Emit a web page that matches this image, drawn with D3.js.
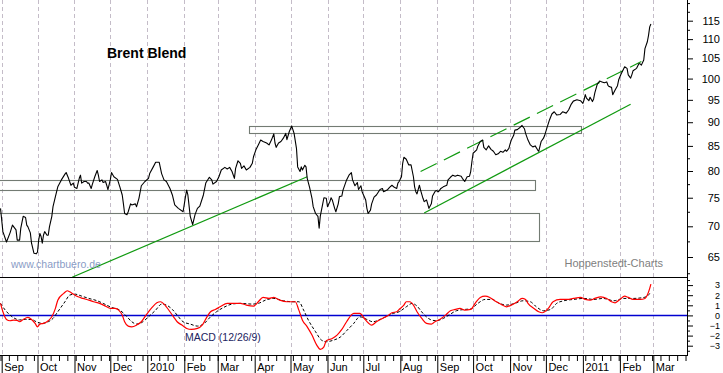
<!DOCTYPE html>
<html><head><meta charset="utf-8">
<script src="https://cdn.jsdelivr.net/npm/d3@7"></script>
<style>
body{margin:0;background:#fff}
svg{display:block;font-family:"Liberation Sans",Arial,sans-serif}
</style>
</head><body>
<svg id="chart" width="723" height="373"></svg>
<script>
// ---------------- data ----------------
const priceDates = ["2009-08-31","2009-09-02","2009-09-05","2009-09-08","2009-09-10","2009-09-13","2009-09-14","2009-09-16","2009-09-17","2009-09-19","2009-09-21","2009-09-22","2009-09-23","2009-09-25","2009-09-26","2009-09-28","2009-09-30","2009-10-01","2009-10-02","2009-10-03","2009-10-04","2009-10-05","2009-10-06","2009-10-07","2009-10-09","2009-10-10","2009-10-11","2009-10-13","2009-10-14","2009-10-16","2009-10-18","2009-10-21","2009-10-24","2009-10-25","2009-10-27","2009-10-29","2009-10-31","2009-11-01","2009-11-03","2009-11-05","2009-11-06","2009-11-07","2009-11-09","2009-11-11","2009-11-12","2009-11-13","2009-11-15","2009-11-16","2009-11-18","2009-11-20","2009-11-21","2009-11-22","2009-11-24","2009-11-25","2009-11-27","2009-11-28","2009-11-29","2009-12-01","2009-12-02","2009-12-04","2009-12-07","2009-12-09","2009-12-11","2009-12-12","2009-12-13","2009-12-15","2009-12-16","2009-12-18","2009-12-19","2009-12-22","2009-12-23","2009-12-25","2009-12-27","2009-12-30","2010-01-02","2010-01-03","2010-01-06","2010-01-08","2010-01-11","2010-01-13","2010-01-15","2010-01-17","2010-01-20","2010-01-22","2010-01-24","2010-01-27","2010-01-31","2010-02-02","2010-02-03","2010-02-04","2010-02-06","2010-02-08","2010-02-10","2010-02-12","2010-02-14","2010-02-17","2010-02-19","2010-02-22","2010-02-24","2010-02-25","2010-02-28","2010-03-02","2010-03-04","2010-03-07","2010-03-09","2010-03-11","2010-03-13","2010-03-15","2010-03-16","2010-03-18","2010-03-20","2010-03-21","2010-03-23","2010-03-25","2010-03-28","2010-03-30","2010-03-31","2010-04-02","2010-04-04","2010-04-06","2010-04-08","2010-04-11","2010-04-13","2010-04-15","2010-04-17","2010-04-18","2010-04-19","2010-04-21","2010-04-23","2010-04-25","2010-04-27","2010-04-28","2010-04-30","2010-05-02","2010-05-04","2010-05-06","2010-05-07","2010-05-09","2010-05-10","2010-05-11","2010-05-13","2010-05-14","2010-05-15","2010-05-17","2010-05-19","2010-05-20","2010-05-22","2010-05-24","2010-05-25","2010-05-26","2010-05-28","2010-05-29","2010-05-31","2010-06-01","2010-06-03","2010-06-04","2010-06-05","2010-06-07","2010-06-08","2010-06-10","2010-06-11","2010-06-13","2010-06-14","2010-06-17","2010-06-19","2010-06-21","2010-06-22","2010-06-24","2010-06-26","2010-06-27","2010-06-29","2010-06-30","2010-07-03","2010-07-04","2010-07-05","2010-07-07","2010-07-08","2010-07-10","2010-07-12","2010-07-15","2010-07-17","2010-07-18","2010-07-21","2010-07-23","2010-07-25","2010-07-27","2010-07-29","2010-07-30","2010-07-31","2010-08-02","2010-08-03","2010-08-04","2010-08-06","2010-08-08","2010-08-10","2010-08-12","2010-08-13","2010-08-14","2010-08-15","2010-08-17","2010-08-18","2010-08-20","2010-08-21","2010-08-23","2010-08-25","2010-08-27","2010-08-28","2010-08-30","2010-08-31","2010-09-02","2010-09-04","2010-09-06","2010-09-09","2010-09-10","2010-09-12","2010-09-14","2010-09-16","2010-09-18","2010-09-21","2010-09-22","2010-09-24","2010-09-26","2010-09-28","2010-09-29","2010-09-30","2010-10-01","2010-10-04","2010-10-05","2010-10-07","2010-10-09","2010-10-10","2010-10-12","2010-10-14","2010-10-16","2010-10-18","2010-10-20","2010-10-22","2010-10-24","2010-10-26","2010-10-28","2010-10-29","2010-10-31","2010-11-01","2010-11-02","2010-11-04","2010-11-05","2010-11-07","2010-11-09","2010-11-11","2010-11-13","2010-11-14","2010-11-16","2010-11-18","2010-11-20","2010-11-22","2010-11-24","2010-11-25","2010-11-27","2010-11-29","2010-11-30","2010-12-02","2010-12-04","2010-12-06","2010-12-08","2010-12-10","2010-12-13","2010-12-15","2010-12-18","2010-12-20","2010-12-22","2010-12-24","2010-12-27","2010-12-30","2011-01-01","2011-01-02","2011-01-03","2011-01-04","2011-01-06","2011-01-07","2011-01-09","2011-01-10","2011-01-11","2011-01-13","2011-01-15","2011-01-17","2011-01-19","2011-01-21","2011-01-22","2011-01-23","2011-01-25","2011-01-26","2011-01-28","2011-01-30","2011-01-31","2011-02-02","2011-02-04","2011-02-05","2011-02-07","2011-02-08","2011-02-10","2011-02-11","2011-02-12","2011-02-15","2011-02-17","2011-02-18","2011-02-19","2011-02-21","2011-02-22","2011-02-24","2011-02-25","2011-02-26","2011-02-27"];
const priceValues = [73.1,69.1,67.4,68.9,70.2,69.4,67.7,67.7,69.7,71.7,71.5,70.2,69.9,68.9,67.2,65.6,65.5,65.8,67.7,68.8,68.3,67.2,68.5,69.1,68.5,68.5,69.9,71.7,73.4,75.2,77.0,78.3,79.4,79.7,78.6,77.3,77.7,76.9,76.7,78.6,79.2,77.7,78.0,78.0,77.7,77.7,76.7,77.5,78.9,80.1,79.2,78.0,78.3,77.8,78.0,77.3,76.5,78.3,79.7,78.9,78.4,77.0,75.5,73.9,72.2,72.0,72.5,73.9,73.7,73.9,73.4,74.9,77.2,78.0,78.6,79.5,80.8,81.7,81.7,79.5,78.3,78.0,76.7,75.5,73.7,73.1,72.5,75.2,76.4,75.5,71.7,70.3,72.0,73.1,73.5,75.5,77.7,78.8,78.3,77.5,78.0,78.9,80.2,80.7,80.4,80.7,79.9,78.6,80.5,82.0,81.5,80.5,81.0,80.2,80.7,81.5,82.8,84.2,85.2,86.2,85.9,85.6,85.2,86.2,87.5,85.6,84.7,85.6,85.9,86.6,87.6,86.3,88.0,89.2,87.6,84.5,80.8,79.9,80.8,80.2,81.1,80.8,78.6,76.9,74.9,73.4,72.2,71.7,69.7,71.8,73.9,75.0,74.9,73.4,74.3,75.0,74.6,73.1,72.5,73.9,75.2,75.3,76.4,78.3,79.2,79.7,78.3,77.2,77.8,76.5,77.2,76.1,74.6,73.1,72.2,72.8,73.9,75.1,75.5,76.5,76.7,76.1,76.4,76.9,77.3,76.9,76.7,77.7,78.0,78.9,81.5,82.7,82.3,81.2,81.2,78.9,77.0,76.1,75.7,77.3,76.4,74.9,74.3,74.6,73.1,73.9,75.3,76.1,76.3,76.1,76.7,77.0,77.3,78.3,78.8,79.2,79.0,79.2,79.0,78.6,78.0,78.9,79.0,79.9,81.8,83.5,84.2,85.0,85.9,86.2,84.7,84.2,85.0,84.3,83.9,83.2,83.4,83.9,83.7,84.2,83.9,84.5,85.4,86.2,87.2,88.3,88.4,88.8,89.3,88.6,87.6,86.2,85.2,84.8,85.0,84.2,83.9,85.9,86.6,87.2,88.9,90.5,91.8,92.3,91.6,91.7,92.3,92.0,92.7,93.9,94.7,95.0,94.8,94.2,95.0,96.2,95.4,94.8,95.6,94.6,95.2,96.6,98.6,99.4,99.2,99.0,99.2,98.4,98.1,97.9,96.2,97.3,98.3,99.7,101.1,102.3,102.9,102.5,100.9,100.1,100.9,101.9,102.5,103.7,103.6,103.3,104.6,107.5,109.3,111.0,113.3,114.1];

const macdDates = ["2009-08-31","2009-09-02","2009-09-05","2009-09-08","2009-09-11","2009-09-14","2009-09-16","2009-09-19","2009-09-23","2009-09-26","2009-09-29","2009-10-01","2009-10-03","2009-10-06","2009-10-10","2009-10-13","2009-10-16","2009-10-18","2009-10-23","2009-10-26","2009-10-28","2009-10-31","2009-11-04","2009-11-08","2009-11-13","2009-11-17","2009-11-22","2009-11-27","2009-12-01","2009-12-05","2009-12-08","2009-12-11","2009-12-13","2009-12-16","2009-12-19","2009-12-23","2009-12-27","2009-12-31","2010-01-05","2010-01-09","2010-01-12","2010-01-15","2010-01-17","2010-01-20","2010-01-23","2010-01-26","2010-01-30","2010-02-03","2010-02-07","2010-02-12","2010-02-16","2010-02-20","2010-02-23","2010-02-27","2010-03-03","2010-03-09","2010-03-14","2010-03-20","2010-03-25","2010-03-31","2010-04-04","2010-04-08","2010-04-13","2010-04-17","2010-04-22","2010-04-28","2010-05-05","2010-05-08","2010-05-11","2010-05-15","2010-05-19","2010-05-23","2010-05-26","2010-05-29","2010-05-31","2010-06-05","2010-06-09","2010-06-13","2010-06-17","2010-06-23","2010-06-28","2010-07-03","2010-07-08","2010-07-12","2010-07-17","2010-07-21","2010-07-25","2010-07-29","2010-07-31","2010-08-04","2010-08-06","2010-08-09","2010-08-12","2010-08-15","2010-08-19","2010-08-23","2010-08-27","2010-08-30","2010-09-03","2010-09-08","2010-09-12","2010-09-16","2010-09-20","2010-09-24","2010-09-29","2010-10-03","2010-10-07","2010-10-11","2010-10-15","2010-10-19","2010-10-24","2010-10-29","2010-11-02","2010-11-07","2010-11-11","2010-11-14","2010-11-16","2010-11-21","2010-11-25","2010-11-28","2010-11-30","2010-12-03","2010-12-07","2010-12-13","2010-12-19","2010-12-24","2010-12-30","2011-01-03","2011-01-07","2011-01-11","2011-01-16","2011-01-21","2011-01-25","2011-01-28","2011-02-01","2011-02-05","2011-02-08","2011-02-12","2011-02-18","2011-02-22","2011-02-24","2011-02-26","2011-02-27"];
const macdValues = [1.19,0.36,-0.4,-0.53,-0.46,-0.5,-0.63,-0.4,-0.2,-0.4,-0.8,-1.13,-0.86,-0.79,-0.53,-0.14,0.69,1.51,2.18,2.44,2.34,2.11,1.84,1.68,1.51,1.35,1.19,0.92,0.69,0.69,0.52,0.03,-0.63,-1.06,-1.13,-0.96,-0.63,0.03,0.79,1.25,1.35,1.12,0.85,0.36,-0.14,-0.63,-0.96,-1.29,-1.39,-1.29,-0.96,-0.14,0.36,0.59,0.85,1.19,1.19,1.19,1.02,0.92,1.35,1.78,1.68,1.78,1.51,1.35,1.35,0.52,-0.47,-1.13,-1.95,-2.94,-3.37,-3.11,-2.51,-2.28,-1.95,-1.39,-0.63,0.2,0.2,-0.47,-0.96,-0.63,-0.3,-0.07,0.26,0.36,0.59,1.02,1.35,1.35,1.02,0.36,-0.3,-0.79,-0.86,-0.63,-0.4,0.03,0.46,0.59,0.69,0.52,0.59,1.25,1.78,1.91,1.78,1.45,1.12,0.85,1.02,1.35,1.68,1.58,1.19,0.69,0.36,0.26,0.36,0.69,1.35,1.58,1.58,1.68,1.78,1.58,1.51,1.68,1.84,1.68,1.35,1.25,1.58,1.91,1.78,1.58,1.58,1.68,2.01,2.67,3.1];

const signalDates = ["2009-08-31","2009-09-04","2009-09-08","2009-09-12","2009-09-16","2009-09-21","2009-09-26","2009-09-30","2009-10-05","2009-10-10","2009-10-14","2009-10-18","2009-10-24","2009-10-28","2009-11-01","2009-11-07","2009-11-13","2009-11-20","2009-11-25","2009-12-02","2009-12-09","2009-12-15","2009-12-19","2009-12-23","2009-12-27","2010-01-02","2010-01-08","2010-01-13","2010-01-17","2010-01-22","2010-01-26","2010-01-31","2010-02-06","2010-02-12","2010-02-17","2010-02-23","2010-02-28","2010-03-06","2010-03-13","2010-03-20","2010-03-30","2010-04-04","2010-04-10","2010-04-17","2010-04-25","2010-05-03","2010-05-08","2010-05-12","2010-05-16","2010-05-22","2010-05-27","2010-05-31","2010-06-06","2010-06-12","2010-06-17","2010-06-23","2010-06-28","2010-07-04","2010-07-09","2010-07-15","2010-07-21","2010-07-26","2010-07-31","2010-08-06","2010-08-11","2010-08-15","2010-08-20","2010-08-26","2010-08-31","2010-09-06","2010-09-12","2010-09-17","2010-09-24","2010-09-29","2010-10-05","2010-10-11","2010-10-17","2010-10-22","2010-10-29","2010-11-05","2010-11-12","2010-11-18","2010-11-23","2010-11-29","2010-12-05","2010-12-10","2010-12-16","2010-12-24","2011-01-02","2011-01-10","2011-01-18","2011-01-27","2011-02-04","2011-02-12","2011-02-21","2011-02-24","2011-02-27"];
const signalValues = [1.19,0.52,0.03,-0.3,-0.45,-0.4,-0.4,-0.63,-0.79,-0.63,-0.3,0.36,1.35,2.01,2.11,1.91,1.68,1.45,1.19,0.79,0.52,-0.14,-0.63,-0.86,-0.73,-0.14,0.52,1.12,1.02,0.59,0.03,-0.63,-0.86,-1.06,-0.86,-0.14,0.36,0.79,1.12,1.19,1.12,1.19,1.51,1.68,1.45,1.35,1.35,0.52,-0.47,-1.62,-2.45,-2.61,-2.45,-2.12,-1.52,-0.79,-0.14,-0.4,-0.63,-0.4,-0.07,0.2,0.36,0.85,1.19,0.92,0.2,-0.4,-0.53,-0.3,0.13,0.46,0.59,0.65,1.19,1.58,1.58,1.25,1.02,1.19,1.45,1.35,0.85,0.46,0.59,1.19,1.45,1.58,1.68,1.58,1.68,1.45,1.68,1.68,1.78,1.91,2.34];

// support / resistance zones (boxes)
const zoneStart = ["2010-03-27","2009-08-20","2009-08-20"];
const zoneEnd   = ["2010-12-30","2010-11-22","2010-11-25"];
const zoneLow   = [87.6, 76.5, 67.6];
const zoneHigh  = [89.2, 78.3, 72.2];

// trend lines
const trendDates  = [["2009-10-30","2010-05-15"],["2010-08-21","2011-02-10"],["2010-08-18","2011-02-19"]];
const trendValues = [[61.9,78.9],[72.3,94.0],[79.9,104.2]];
const trendDashed = [false,false,true];

const monthTicks  = ["2009-09-01","2009-10-01","2009-11-01","2009-12-01","2010-01-01","2010-02-01","2010-03-01","2010-04-01","2010-05-01","2010-06-01","2010-07-01","2010-08-01","2010-09-01","2010-10-01","2010-11-01","2010-12-01","2011-01-01","2011-02-01","2011-03-01"];
const monthLabels = ["Sep","Oct","Nov","Dec","2010","Feb","Mar","Apr","May","Jun","Jul","Aug","Sep","Oct","Nov","Dec","2011","Feb","Mar"];
const priceTicks  = [65,70,75,80,85,90,95,100,105,110,115];
const macdTicks   = [-3,-2,-1,0,1,2,3];

// ---------------- chart ----------------
const parse = d3.timeParse("%Y-%m-%d");
const PR = 687, TOPB = 277, AXY = 355;
const svg = d3.select("#chart");

const x = d3.scaleTime().domain([parse("2009-09-01"), parse("2011-03-01")]).range([1.7, 653.3]);
const y = d3.scaleLog().domain([65, 115]).range([257, 20.7]);
const m = d3.scaleLinear().domain([-3, 3]).range([345.7, 285.1]);

const defs = svg.append("defs");
defs.append("clipPath").attr("id","clipTop").append("rect").attr("x",0).attr("y",0).attr("width",PR).attr("height",TOPB);
defs.append("clipPath").attr("id","clipBot").append("rect").attr("x",0).attr("y",TOPB+1).attr("width",PR).attr("height",AXY-TOPB-1);

// vertical dashed month grid
svg.append("g").selectAll("line").data(monthTicks.map(parse)).join("line")
  .attr("x1", d => Math.round(x(d)) + 0.5).attr("x2", d => Math.round(x(d)) + 0.5)
  .attr("y1", 0).attr("y2", AXY)
  .attr("stroke", "#c4bcc8").attr("stroke-width", 1).attr("stroke-dasharray", "4,3");

const topG = svg.append("g").attr("clip-path","url(#clipTop)");

// zones
topG.append("g").selectAll("rect").data(zoneStart.map((s,i)=>({s:parse(s),e:parse(zoneEnd[i]),lo:zoneLow[i],hi:zoneHigh[i]}))).join("rect")
  .attr("x", d => Math.round(x(d.s)) + 0.5)
  .attr("y", d => Math.round(y(d.hi)) + 0.5)
  .attr("width", d => Math.round(x(d.e)) - Math.round(x(d.s)))
  .attr("height", d => Math.round(y(d.lo)) - Math.round(y(d.hi)))
  .attr("fill","none").attr("stroke","#737b73").attr("stroke-width",1.1);

// trend lines
const tl = d3.line().x(d => x(d[0])).y(d => y(d[1]));
trendDates.forEach((ds, i) => {
  topG.append("path")
    .datum(ds.map((d, j) => [parse(d), trendValues[i][j]]))
    .attr("d", tl).attr("fill","none").attr("stroke","#109a10").attr("stroke-width",1.2)
    .attr("stroke-dasharray", trendDashed[i] ? "18,8" : null);
});

// price
const priceData = priceDates.map((d,i)=>({date:parse(d), v:priceValues[i]}));
topG.append("path").datum(priceData)
  .attr("d", d3.line().x(d=>x(d.date)).y(d=>y(d.v)))
  .attr("fill","none").attr("stroke","#000").attr("stroke-width",1.1).attr("stroke-linejoin","round");

// texts
svg.append("text").attr("x",107).attr("y",58).attr("font-size",14).attr("font-weight","bold").attr("fill","#000").text("Brent Blend");
svg.append("text").attr("x",11).attr("y",268).attr("font-size",10.5).attr("fill","#8a9cc6").text("www.chartbuero.de");
svg.append("text").attr("x",663).attr("y",267).attr("text-anchor","end").attr("font-size",11).attr("fill","#808080").text("Hoppenstedt-Charts");

// MACD panel
const botG = svg.append("g").attr("clip-path","url(#clipBot)");
botG.append("line").attr("x1",0).attr("x2",PR).attr("y1",Math.round(m(0))+0.5).attr("y2",Math.round(m(0))+0.5)
  .attr("stroke","#0000d0").attr("stroke-width",1.3);
const signalData = signalDates.map((d,i)=>({date:parse(d), v:signalValues[i]}));
const macdData = macdDates.map((d,i)=>({date:parse(d), v:macdValues[i]}));
const ml = d3.line().curve(d3.curveMonotoneX).x(d=>x(d.date)).y(d=>m(d.v));
botG.append("path").datum(signalData).attr("d", ml).attr("fill","none").attr("stroke","#000").attr("stroke-width",1).attr("stroke-dasharray","3,2");
botG.append("path").datum(macdData).attr("d", ml).attr("fill","none").attr("stroke","#ff0000").attr("stroke-width",1.2);
svg.append("text").attr("x",185).attr("y",340.5).attr("font-size",10.5).attr("fill","#1c2460").text("MACD (12/26/9)");

// frame lines
svg.append("line").attr("x1",0).attr("x2",PR).attr("y1",TOPB+0.5).attr("y2",TOPB+0.5).attr("stroke","#000");
svg.append("line").attr("x1",0).attr("x2",PR+1).attr("y1",AXY+0.5).attr("y2",AXY+0.5).attr("stroke","#000");
svg.append("line").attr("x1",PR+0.5).attr("x2",PR+0.5).attr("y1",0).attr("y2",AXY+1).attr("stroke","#000");

// right price axis
const fontFam = "Liberation Sans, Arial, sans-serif";
const gY = svg.append("g").attr("transform",`translate(${PR},0)`)
  .call(d3.axisRight(y).tickValues(priceTicks).tickSize(6).tickFormat(d3.format("d")));
gY.select(".domain").remove();
gY.attr("font-size",11).attr("font-family",fontFam);
gY.selectAll("text").attr("x",33).attr("text-anchor","end").attr("fill","#000");
const gY2 = svg.append("g").attr("transform",`translate(${PR},0)`)
  .call(d3.axisRight(y).tickValues(d3.range(62.5, 121, 2.5).filter(v => v % 5 !== 0 || v > 115)).tickSize(3).tickFormat(""));
gY2.select(".domain").remove();

// right MACD axis
const gM = svg.append("g").attr("transform",`translate(${PR},0)`)
  .call(d3.axisRight(m).tickValues(macdTicks).tickSize(6).tickFormat(d3.format("d")));
gM.select(".domain").remove();
gM.attr("font-size",9).attr("font-family",fontFam);
gM.selectAll("text").attr("x",33).attr("text-anchor","end").attr("fill","#000");
const gM2 = svg.append("g").attr("transform",`translate(${PR},0)`)
  .call(d3.axisRight(m).tickValues(d3.range(-3.5, 4, 1)).tickSize(3).tickFormat(""));
gM2.select(".domain").remove();

// bottom time axis
const monthDates = monthTicks.map(parse);
const gX = svg.append("g").attr("transform",`translate(0,${AXY})`)
  .call(d3.axisBottom(x).tickValues(monthDates).tickSize(18).tickFormat((d,i)=>monthLabels[i]));
gX.select(".domain").remove();
gX.attr("font-size",11).attr("font-family",fontFam);
gX.selectAll("text").attr("x",2).attr("y",16).attr("dy",null).attr("text-anchor","start").attr("fill","#000");
const mondays = d3.timeMonday.range(parse("2009-08-31"), parse("2011-03-29"));
const gX2 = svg.append("g").attr("transform",`translate(0,${AXY})`)
  .call(d3.axisBottom(x).tickValues(mondays).tickSize(6).tickFormat(""));
gX2.select(".domain").remove();
</script>
</body></html>
